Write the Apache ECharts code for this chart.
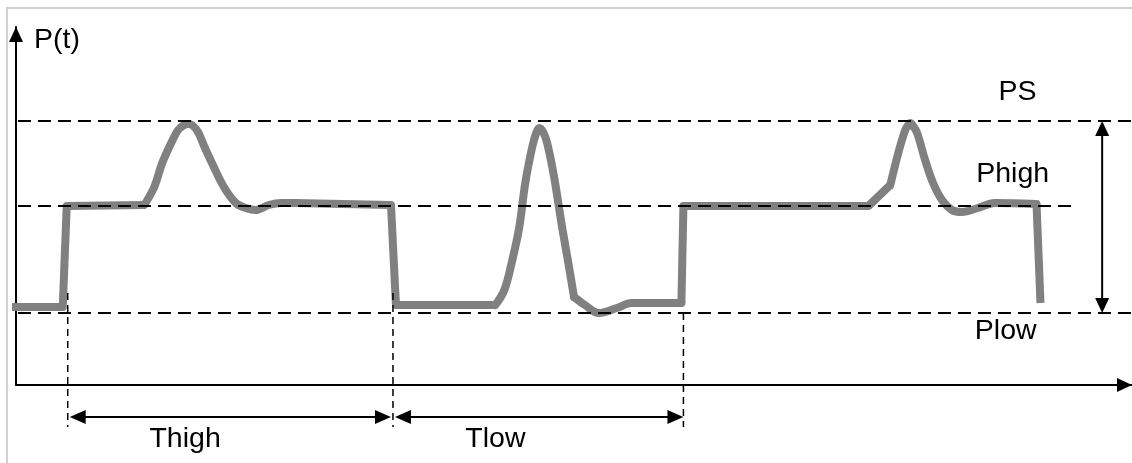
<!DOCTYPE html>
<html>
<head>
<meta charset="utf-8">
<script src="https://cdn.jsdelivr.net/npm/echarts@6/dist/echarts.min.js"></script>
<style>
html,body{margin:0;padding:0;background:#ffffff;}
#chart{width:1132px;height:463px;}
</style>
</head>
<body>
<div id="chart"></div>
<script>
// ---- Pressure trace P(t) (time units, pressure units) ----
const traceX = [-0.8, 4.7, 5.1, 12.9, 13.9, 14.7, 15.6, 16.3, 16.9, 17.3, 17.7, 18.3, 19.0, 19.7, 20.9, 22.1, 23.1, 24.1, 25.4, 26.7, 28.1, 37.7,
                38.2, 48.2, 49.1, 49.9, 50.6, 51.2, 51.9, 52.3, 52.6, 53.0, 53.4, 54.1, 54.9, 55.6, 56.1, 57.2, 58.6, 60.4, 61.9, 66.9,
                67.1, 85.7, 87.9, 88.7, 89.4, 89.7, 89.9, 90.2, 90.6, 91.4, 92.2, 93.1, 94.1, 95.1, 96.7, 98.4, 102.6, 103.0];
const traceY = [7.8, 7.8, 17.9, 18.0, 19.8, 22.2, 24.2, 25.5, 26.0, 26.1, 26.0, 25.3, 23.7, 22.2, 19.8, 18.2, 17.7, 17.5, 18.0, 18.2, 18.2, 18.0,
                8.0, 8.0, 9.5, 12.5, 15.8, 20.2, 23.8, 25.2, 25.7, 25.3, 24.2, 20.8, 15.8, 11.8, 8.8, 8.0, 7.2, 7.7, 8.2, 8.2,
                17.9, 17.9, 20.0, 23.2, 25.5, 26.0, 26.2, 25.9, 25.2, 22.5, 20.2, 18.5, 17.5, 17.3, 17.7, 18.2, 18.1, 8.2];
// index ranges of the trace drawn as smooth curves (the rest is drawn as straight steps)
const traceCurveRanges = [[3, 20], [23, 36], [36, 41], [44, 58]];

// ---- Pressure levels (dashed guides) ----
const levelNames = ['PS', 'Phigh', 'Plow'];
const levelValues = [26.4, 17.9, 7.2];
const levelLineEnd = [112.2, 106.2, 112.2];
const levelLabelX = [100.7, 100.2, 99.5];
const levelLabelY = [29.25, 21.05, 5.4];

// ---- Phases (time spans) ----
const phaseNames = ['Thigh', 'Tlow'];
const phaseStart = [5.4, 38.1];
const phaseEnd = [37.7, 67.1];
const phaseLabelX = [17.0, 48.2];
const phaseLabelY = [-5.4, -5.4];
const phaseArrowY = [-3.2, -3.2];

// ---- Phase boundaries (vertical dashed guides) ----
const boundaryX = [5.2, 37.9, 67.1];
const boundaryTop = [9.2, 9.2, 7.2];
const boundaryBottom = [-4.2, -4.2, -4.2];

// ---- PS span (Plow -> PS) ----
const spanX = [109.2];

// ---- Axes ----
const xMax = 112.2;
const yMax = 35.8;
const yAxisTitle = 'P(t)';

const FONT = '28.5px "Liberation Sans", Arial, Helvetica, sans-serif';
const TRACE_COLOR = '#808080';
const TRACE_WIDTH = 8;

function headPoints(tip, dx, dy, len, half) {
  const bx = tip[0] - dx * len, by = tip[1] - dy * len;
  const nx = -dy, ny = dx;
  return [[tip[0], tip[1]], [bx + nx * half, by + ny * half], [bx - nx * half, by - ny * half]];
}

function doubleArrow(a, b, lw, len, half) {
  const vx = b[0] - a[0], vy = b[1] - a[1];
  const L = Math.sqrt(vx * vx + vy * vy);
  const dx = vx / L, dy = vy / L;
  return [
    {type: 'line', shape: {x1: a[0] + dx * len * 0.8, y1: a[1] + dy * len * 0.8, x2: b[0] - dx * len * 0.8, y2: b[1] - dy * len * 0.8},
     style: {stroke: '#000', lineWidth: lw}},
    {type: 'polygon', shape: {points: headPoints(b, dx, dy, len, half)}, style: {fill: '#000'}},
    {type: 'polygon', shape: {points: headPoints(a, -dx, -dy, len, half)}, style: {fill: '#000'}}
  ];
}

// Build trace pieces: straight parts between curve ranges, smooth curve parts inside
function tracePts(from, to) {
  const out = [];
  for (let i = from; i <= to; i++) out.push([traceX[i], traceY[i]]);
  return out;
}
const traceSeries = [];
let cursor = 0;
traceCurveRanges.forEach(function (r) {
  if (r[0] > cursor) {
    traceSeries.push({type: 'line', clip: false, z: 2, symbol: 'none', smooth: false, silent: true,
      data: tracePts(cursor, r[0]),
      lineStyle: {color: TRACE_COLOR, width: TRACE_WIDTH, cap: 'butt', join: 'round'}});
  }
  traceSeries.push({type: 'line', clip: false, z: 2, symbol: 'none', smooth: 0.35, silent: true,
    data: tracePts(r[0], r[1]),
    lineStyle: {color: TRACE_COLOR, width: TRACE_WIDTH, cap: 'round', join: 'round'}});
  cursor = r[1];
});
if (cursor < traceX.length - 1) {
  traceSeries.push({type: 'line', clip: false, z: 2, symbol: 'none', smooth: false, silent: true,
    data: tracePts(cursor, traceX.length - 1),
    lineStyle: {color: TRACE_COLOR, width: TRACE_WIDTH, cap: 'butt', join: 'round'}});
}

const chart = echarts.init(document.getElementById('chart'), null, {renderer: 'canvas'});

const axisLineStyle = {show: true, onZero: false, lineStyle: {color: '#000', width: 2},
  symbol: ['none', 'triangle'], symbolSize: [14, 15], symbolOffset: [0, -7.5]};

const option = {
  animation: false,
  backgroundColor: '#ffffff',
  grid: {left: 16, top: 27, right: -6, bottom: 78, containLabel: false},
  xAxis: {
    type: 'value', min: 0, max: xMax,
    axisLine: axisLineStyle,
    axisTick: {show: false}, axisLabel: {show: false}, splitLine: {show: false}
  },
  yAxis: {
    type: 'value', min: 0, max: yMax,
    name: yAxisTitle, nameLocation: 'end', nameGap: -13.5,
    nameTextStyle: {color: '#000', fontSize: 28.5, fontFamily: '"Liberation Sans", Arial, sans-serif',
      align: 'left', verticalAlign: 'middle', padding: [0, 0, 0, 18]},
    axisLine: axisLineStyle,
    axisTick: {show: false}, axisLabel: {show: false}, splitLine: {show: false}
  },
  graphic: [
    {type: 'line', shape: {x1: 6, y1: 8, x2: 1132, y2: 8}, style: {stroke: '#d0d0d0', lineWidth: 2}, silent: true},
    {type: 'line', shape: {x1: 7, y1: 8, x2: 7, y2: 463}, style: {stroke: '#d0d0d0', lineWidth: 2}, silent: true}
  ],
  series: traceSeries.concat([
    {
      name: 'levels', type: 'custom', z: 5, clip: false, silent: true,
      data: levelValues.map((v, i) => [levelLineEnd[i], v]),
      renderItem: function (params, api) {
        const i = params.dataIndex;
        const p0 = api.coord([0, levelValues[i]]);
        const p1 = api.coord([levelLineEnd[i], levelValues[i]]);
        const t = api.coord([levelLabelX[i], levelLabelY[i]]);
        return {type: 'group', children: [
          {type: 'line', shape: {x1: p0[0] + 2, y1: p0[1], x2: p1[0], y2: p1[1]},
           style: {stroke: '#000', lineWidth: 2, lineDash: [13, 7]}},
          {type: 'text', x: t[0], y: t[1],
           style: {text: levelNames[i], fill: '#000', font: FONT, align: 'center', verticalAlign: 'middle'}}
        ]};
      }
    },
    {
      name: 'boundaries', type: 'custom', z: 5, clip: false, silent: true,
      data: boundaryX.map((x, i) => [x, boundaryTop[i]]),
      renderItem: function (params, api) {
        const i = params.dataIndex;
        const a = api.coord([boundaryX[i], boundaryTop[i]]);
        const b = api.coord([boundaryX[i], boundaryBottom[i]]);
        return {type: 'line', shape: {x1: a[0], y1: a[1], x2: b[0], y2: b[1]},
                style: {stroke: '#000', lineWidth: 1.5, lineDash: [7, 5]}};
      }
    },
    {
      name: 'phases', type: 'custom', z: 6, clip: false, silent: true,
      data: phaseNames.map((n, i) => [phaseStart[i], phaseArrowY[i]]),
      renderItem: function (params, api) {
        const i = params.dataIndex;
        const a = api.coord([phaseStart[i], phaseArrowY[i]]);
        const b = api.coord([phaseEnd[i], phaseArrowY[i]]);
        const t = api.coord([phaseLabelX[i], phaseLabelY[i]]);
        const kids = doubleArrow(a, b, 2, 16, 7);
        kids.push({type: 'text', x: t[0], y: t[1],
          style: {text: phaseNames[i], fill: '#000', font: FONT, align: 'center', verticalAlign: 'middle'}});
        return {type: 'group', children: kids};
      }
    },
    {
      name: 'span', type: 'custom', z: 6, clip: false, silent: true,
      data: spanX.map(x => [x, levelValues[0]]),
      renderItem: function (params, api) {
        const x = spanX[params.dataIndex];
        const a = api.coord([x, levelValues[2]]);
        const b = api.coord([x, levelValues[0]]);
        return {type: 'group', children: doubleArrow(a, b, 2, 15, 7)};
      }
    }
  ])
};
chart.setOption(option);
</script>
</body>
</html>
